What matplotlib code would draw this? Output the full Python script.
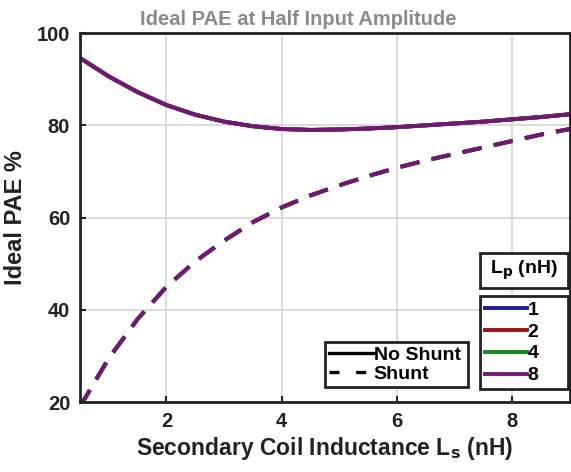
import matplotlib.pyplot as plt
from matplotlib.patches import Rectangle

plt.rcParams['font.family'] = ['Liberation Sans', 'DejaVu Sans']
plt.rcParams['font.weight'] = 'bold'
plt.rcParams['axes.labelweight'] = 'bold'
plt.rcParams['axes.titleweight'] = 'bold'
plt.rcParams['mathtext.default'] = 'bf'

# values (all Lp curves lie on top of each other)
ls_nh = [0.5, 1.0, 1.5, 2.0, 2.5, 3.0, 3.5, 4.0, 4.5, 5.0, 5.5, 6.0, 6.5, 7.0, 7.5, 8.0, 8.5, 9.0]
pae_no_shunt = [94.6, 90.6, 87.2, 84.4, 82.3, 80.8, 79.8, 79.2, 79.0, 79.1, 79.3, 79.6, 80.0, 80.4, 80.8, 81.3, 81.8, 82.4]
pae_shunt = [19.0, 29.5, 38.0, 45.0, 50.5, 55.0, 59.0, 62.2, 64.8, 67.0, 69.0, 70.8, 72.4, 73.8, 75.2, 76.6, 78.0, 79.2]
lp_values = ['1', '2', '4', '8']
lp_colors = ['#1c1c9a', '#9a1414', '#158a20', '#751577']

fig = plt.figure(figsize=(5.71, 4.72), dpi=100)
ax = fig.add_axes([0.140, 0.148, 0.858, 0.782])

lp_handles = []
for lp, c in zip(lp_values, lp_colors):
    h, = ax.plot(ls_nh, pae_no_shunt, color=c, lw=2.8)
    ax.plot(ls_nh, pae_shunt, color=c, lw=2.8, dashes=(5, 3.2))
    lp_handles.append(h)

ax.set_xlim(0.5, 9)
ax.set_ylim(20, 100)
ax.set_xticks([2, 4, 6, 8])
ax.set_yticks([20, 40, 60, 80, 100])
ax.grid(True, color='#d4d4d4', lw=1.2)
ax.tick_params(direction='in', length=4, width=1.5, labelsize=14.5, colors='#222222', pad=7)
for s in ax.spines.values():
    s.set_linewidth(2)
    s.set_color('#222222')

ax.set_xlabel('Secondary Coil Inductance L$_\\mathbf{s}$ (nH)', fontsize=16.5, color='#222222', labelpad=3)
ax.set_ylabel('Ideal PAE %', fontsize=17, color='#222222', labelpad=7)
ax.set_title('Ideal PAE at Half Input Amplitude', fontsize=14.5, color='#8a8a8a', pad=6, x=0.445)

# shunt legend
style_handles = [plt.Line2D([], [], color='black', lw=2.4),
                 plt.Line2D([], [], color='black', lw=2.4, dashes=(3, 5))]
leg1 = ax.legend(style_handles, ['No Shunt', 'Shunt'], loc='lower left',
                 bbox_to_anchor=(0.5, 0.041, 0.292, 0.138), mode='expand',
                 fontsize=14, handlelength=2.3, handletextpad=0.0,
                 labelspacing=0.1, borderpad=0.2, borderaxespad=0, fancybox=False,
                 edgecolor='#222222', framealpha=1)
leg1.get_frame().set_linewidth(2)
ax.add_artist(leg1)

# Lp legend with boxed title
leg2 = ax.legend(lp_handles, lp_values, loc='lower left',
                 bbox_to_anchor=(0.816, 0.035, 0.18, 0.263), mode='expand',
                 fontsize=14, handlelength=2.2, handletextpad=0.0,
                 labelspacing=0.22, borderpad=0.25, borderaxespad=0, fancybox=False,
                 edgecolor='#222222', framealpha=1)
leg2.get_frame().set_linewidth(2)
ax.add_patch(Rectangle((0.816, 0.309), 0.18, 0.095, transform=ax.transAxes,
                       fc='white', ec='#222222', lw=2, zorder=9, clip_on=False))
ax.text(0.906, 0.357, 'L$_\\mathbf{p}$ (nH)', transform=ax.transAxes,
        ha='center', va='center', fontsize=14, zorder=10)

fig.savefig('out.png', dpi=100)
